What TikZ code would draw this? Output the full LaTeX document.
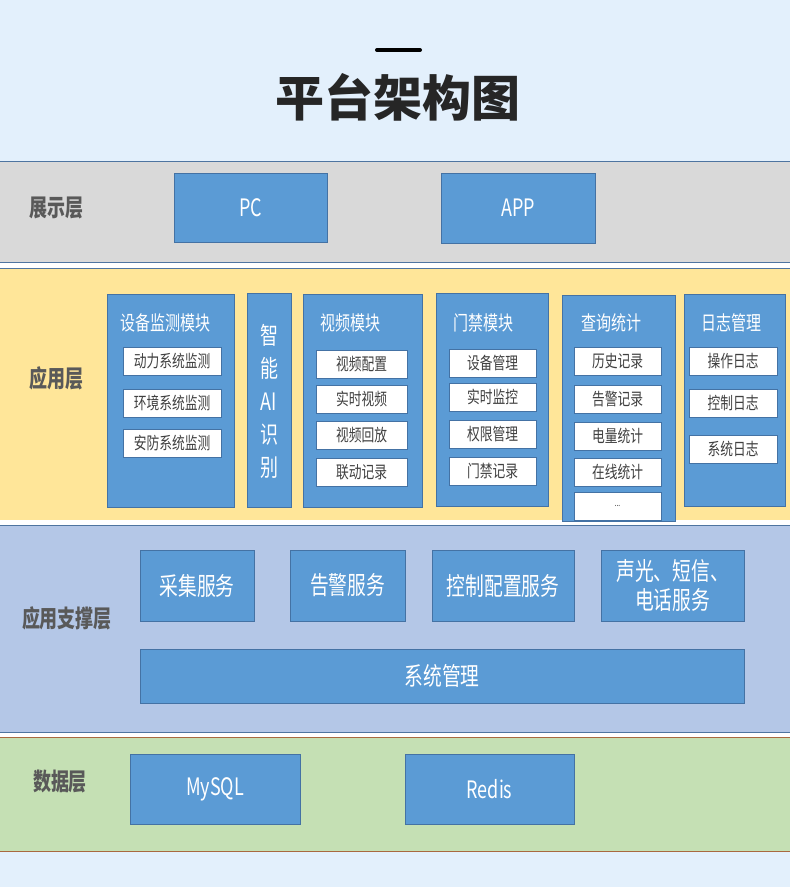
\documentclass[tikz,border=0pt]{standalone}
\usepackage{fontspec}
\usepackage{xcolor}
\newfontfamily\cjk{Noto Sans CJK SC}
\newfontfamily\cjkn{Noto Sans CJK SC}[FakeStretch=0.75]
\definecolor{bgblue}{HTML}{E3F0FC}
\definecolor{showgray}{HTML}{D9D9D9}
\definecolor{appyellow}{HTML}{FFE699}
\definecolor{supblue}{HTML}{B4C7E7}
\definecolor{datagreen}{HTML}{C5E0B4}
\definecolor{bandline}{HTML}{4E74A0}
\definecolor{databorder}{HTML}{A9693F}
\definecolor{blkfill}{HTML}{5B9BD5}
\definecolor{blkline}{HTML}{4472A4}
\definecolor{subtext}{HTML}{404040}
\definecolor{lbltext}{HTML}{595959}

\begin{document}
\begin{tikzpicture}[x=1pt,y=-1pt,
    blk/.style={draw=blkline, fill=blkfill, line width=0.8pt, inner sep=0pt, text=white},
    sub/.style={draw=blkline, fill=white, line width=0.6pt, inner sep=0pt, text=subtext,
        minimum height=28, font=\cjkn\fontsize{17}{19}\selectfont},
    lbl/.style={text=lbltext, font=\cjkn\bfseries\fontsize{24}{26}\selectfont},
    mtitle/.style={text=white, font=\cjkn\fontsize{20}{22}\selectfont},
    svc/.style={blk, minimum height=71, font=\cjkn\fontsize{25}{27}\selectfont, align=center},
    term/.style={blk, font=\cjkn\fontsize{24}{26}\selectfont}]
        % Background
        \fill[bgblue] (0,0) rectangle (790,887);
        \useasboundingbox (0,0) rectangle (790,887);
        % Title
        \draw[line width=4pt, line cap=round] (377,50) -- (420,50);
        \node[text=black!85, font=\cjk\bfseries\fontsize{49}{52}\selectfont] (title) at (398,97) {平台架构图};
        % Layer bands
        \fill[showgray] (0,161) rectangle (790,262);
        \fill[white] (0,262) rectangle (790,268);
        \fill[appyellow] (0,268) rectangle (790,520);
        \fill[white] (0,520) rectangle (790,525);
        \fill[supblue] (0,525) rectangle (790,732);
        \fill[white] (0,732) rectangle (790,737);
        \fill[datagreen] (0,737) rectangle (790,851);
        \draw[bandline, line width=1pt] (0,161) -- (790,161) (0,262) -- (790,262);
        \draw[bandline, line width=1pt] (0,268) -- (790,268) (0,525) -- (790,525) (0,732) -- (790,732);
        \draw[databorder, line width=1pt] (0,737) -- (790,737) (0,851) -- (790,851);
        % Presentation layer
        \node[lbl] (showlbl) at (57,208) {展示层};
        \node[term, minimum width=153, minimum height=69] (pc) at (250.5,207.5) {PC};
        \node[term, minimum width=154, minimum height=70] (app) at (518,208) {APP};
        % Application layer
        \node[lbl] (applbl) at (57,378) {应用层};
        \node[blk, minimum width=127, minimum height=213] (devmod) at (170.5,400.5) {};
        \node[blk, minimum width=44, minimum height=214] (aimod) at (269,400) {};
        \node[blk, minimum width=119, minimum height=213] (vidmod) at (362.5,400.5) {};
        \node[blk, minimum width=112, minimum height=213] (doormod) at (492,399.5) {};
        \node[blk, minimum width=113, minimum height=226] (qrymod) at (618.5,408) {};
        \node[blk, minimum width=101, minimum height=212] (logmod) at (734.5,400) {};
        \node[mtitle] (devtitle) at (165.5,323) {设备监测模块};
        \node[text=white, font=\cjkn\fontsize{24}{33}\selectfont, align=center] (aititle) at (269,401) {智\\能\\AI\\识\\别};
        \node[mtitle] (vidtitle) at (350,323) {视频模块};
        \node[mtitle] (doortitle) at (483,323) {门禁模块};
        \node[mtitle] (qrytitle) at (611.5,323) {查询统计};
        \node[mtitle] (logtitle) at (731,323) {日志管理};
        % Device monitoring
        \node[sub, minimum width=98] (dev1) at (172,361.5) {动力系统监测};
        \node[sub, minimum width=98] (dev2) at (172,403.5) {环境系统监测};
        \node[sub, minimum width=98] (dev3) at (172,443) {安防系统监测};
        % Video
        \node[sub, minimum width=91] (vid1) at (361.5,364.5) {视频配置};
        \node[sub, minimum width=91] (vid2) at (361.5,399) {实时视频};
        \node[sub, minimum width=91] (vid3) at (361.5,435) {视频回放};
        \node[sub, minimum width=91] (vid4) at (361.5,472) {联动记录};
        % Access control
        \node[sub, minimum width=87] (door1) at (492.5,363.5) {设备管理};
        \node[sub, minimum width=87] (door2) at (492.5,397) {实时监控};
        \node[sub, minimum width=87] (door3) at (492.5,434) {权限管理};
        \node[sub, minimum width=87] (door4) at (492.5,471.5) {门禁记录};
        % Query statistics
        \node[sub, minimum width=87] (qry1) at (617.5,361.5) {历史记录};
        \node[sub, minimum width=87] (qry2) at (617.5,399) {告警记录};
        \node[sub, minimum width=87] (qry3) at (617.5,436) {电量统计};
        \node[sub, minimum width=87] (qry4) at (617.5,472) {在线统计};
        \node[sub, minimum width=87, font=\cjkn\fontsize{9}{10}\selectfont] (qry5) at (617.5,506) {...};
        % Logs
        \node[sub, minimum width=88] (log1) at (733,361.5) {操作日志};
        \node[sub, minimum width=88] (log2) at (733,403.5) {控制日志};
        \node[sub, minimum width=88] (log3) at (733,449) {系统日志};
        % Support layer
        \node[lbl] (suplbl) at (67,618) {应用支撑层};
        \node[svc, minimum width=114] (collect) at (197,585.5) {采集服务};
        \node[svc, minimum width=115] (alarm) at (347.5,585.5) {告警服务};
        \node[svc, minimum width=142] (ctrl) at (503,585.5) {控制配置服务};
        \node[svc, minimum width=143, font=\cjkn\fontsize{25}{29}\selectfont] (notify) at (672.5,585.5) {声光、短信、\\电话服务};
        \node[svc, minimum width=604, minimum height=54] (sysmgr) at (442,676) {系统管理};
        % Data layer
        \node[lbl] (datalbl) at (60,782) {数据层};
        \node[term, minimum width=170, minimum height=70] (mysql) at (215,789) {MySQL};
        \node[term, minimum width=169, minimum height=70] (redis) at (489.5,789) {Redis};
    \end{tikzpicture}
\end{document}
